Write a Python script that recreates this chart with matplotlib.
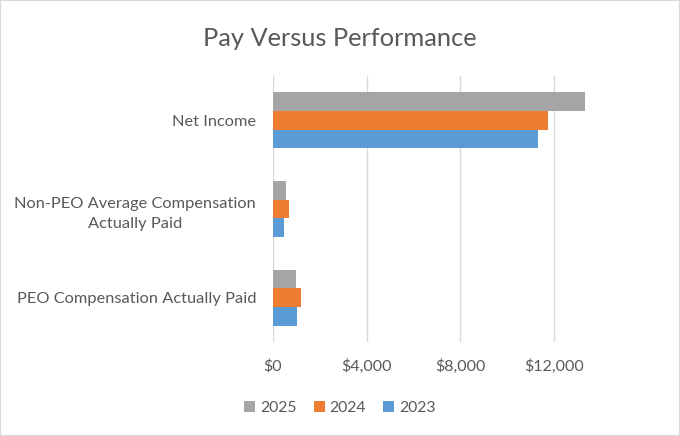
import matplotlib.pyplot as plt
import numpy as np
from matplotlib.patches import Rectangle
from matplotlib.ticker import FuncFormatter

categories = ['PEO Compensation Actually Paid',
              'Non-PEO Average Compensation\nActually Paid',
              'Net Income']
years = ['2025', '2024', '2023']
values_2025 = [1005, 566, 13290]
values_2024 = [1218, 694, 11745]
values_2023 = [1047, 485, 11302]
colors = {'2025': '#A5A5A5', '2024': '#ED7D31', '2023': '#5B9BD5'}
xticks = [0, 4000, 8000, 12000]

TEXT = '#595959'
plt.rcParams['font.family'] = ['Lato', 'DejaVu Sans']

fig = plt.figure(figsize=(6.8, 4.36), dpi=100)
fig.patches.append(Rectangle((0, 0), 1, 1, transform=fig.transFigure, fill=False,
                             edgecolor='#D9D9D9', linewidth=1.5))
ax = fig.add_axes([0.401, 0.2156, 0.459, 0.61])

y = np.arange(len(categories))
h = 0.21
series = {'2025': values_2025, '2024': values_2024, '2023': values_2023}
offsets = {'2025': h, '2024': 0, '2023': -h}
for yr in years:
    ax.barh(y + offsets[yr], series[yr], height=h, color=colors[yr], label=yr, zorder=3)

ax.set_xlim(0, 13300)
ax.set_ylim(-0.5, len(categories) - 0.5)
ax.set_xticks(xticks)
ax.xaxis.set_major_formatter(FuncFormatter(lambda v, p: '${:,.0f}'.format(v)))
ax.set_yticks(y)
ax.set_yticklabels(categories, multialignment='center')
for t in ax.get_yticklabels():
    t.set_linespacing(1.6)
ax.tick_params(axis='both', length=0, colors=TEXT)
ax.tick_params(axis='x', pad=12, labelsize=11.5)
ax.tick_params(axis='y', pad=12, labelsize=11.8)
ax.grid(axis='x', color='#D9D9D9', linewidth=1, zorder=0)
for s in ax.spines.values():
    s.set_visible(False)

fig.text(0.5, 0.912, 'Pay Versus Performance', ha='center', va='center',
         fontsize=18.3, color=TEXT)

leg = fig.legend(loc='center', bbox_to_anchor=(0.5, 0.064), ncol=3, frameon=False,
                 fontsize=11.3, handlelength=0.7, handleheight=0.7, handletextpad=0.3,
                 columnspacing=1.1, labelcolor=TEXT)

fig.savefig('out.png', dpi=100)
